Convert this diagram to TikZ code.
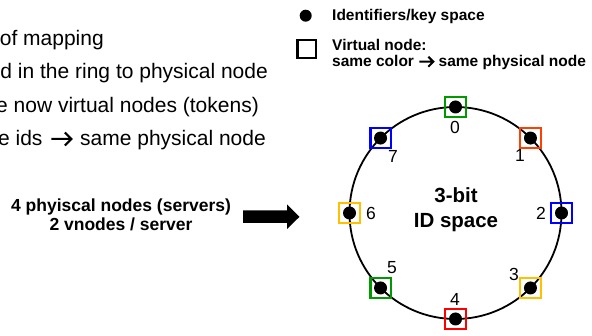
\documentclass[tikz,border=0pt]{standalone}
\usepackage{fontspec}
\setmainfont{Liberation Sans}
\definecolor{vgreen}{RGB}{0,153,0}
\definecolor{vblue}{RGB}{0,0,255}
\definecolor{vyellow}{RGB}{255,192,0}
\definecolor{vorange}{RGB}{255,64,0}
\definecolor{vred}{RGB}{255,0,0}
% inline chevron arrow: #1 length, #2 head half-size, #3 stroke, #4 raise
\newcommand{\chevarrow}[4]{\tikz[baseline=-#4]{\draw[line width=#3, line cap=butt, line join=miter, miter limit=10] (0pt,0pt) -- (#1,0pt) (#1-#2,#2) -- (#1,0pt) -- (#1-#2,-#2);}}
\begin{document}
\begin{tikzpicture}[x=1pt,y=-1pt]
\useasboundingbox (0,0) rectangle (592,336);
\clip (0,0) rectangle (592,336);
\tikzset{
  bodytext/.style={font=\fontsize{21}{25}\selectfont, inner sep=0, anchor=base east},
  legendtext/.style={font=\bfseries\fontsize{15.5}{17}\selectfont, inner sep=0, anchor=base west},
  infotext/.style={font=\bfseries\fontsize{17.5}{20}\selectfont, inner sep=0, anchor=base},
  centertext/.style={font=\bfseries\fontsize{20.5}{24}\selectfont, inner sep=0, anchor=base},
  iddot/.style={circle, fill=black, inner sep=0, minimum size=13pt},
  vnode/.style={draw=#1, line width=2.4pt, minimum size=20.5pt, inner sep=0},
  idlabel/.style={font=\fontsize{17.5}{20}\selectfont, inner sep=0, anchor=center},
}
% left text (clipped at the left edge)
\node[bodytext] (t1) at (104,46) {of mapping};
\node[bodytext] (t2) at (268,79) {d in the ring to physical node};
\node[bodytext] (t3) at (259,112.5) {e now virtual nodes (tokens)};
\node[bodytext] (t4) at (266,146) {e ids\hspace{2pt} \chevarrow{20pt}{6.5pt}{2pt}{7pt}\hspace{2pt} same physical node};
% legend
\node[iddot, minimum size=12pt] (ldot) at (305.7,15.7) {};
\node[legendtext] (l1) at (332,21) {Identifiers/key space};
\node[draw, line width=2.2pt, minimum size=18.5pt, inner sep=0] (lsq) at (306.7,49) {};
\node[legendtext] (l2) at (332,51) {Virtual node:};
\node[legendtext] (l3) at (332,67) {same color \chevarrow{14pt}{5pt}{2pt}{5.3pt} same physical node};
% info text and arrow
\node[infotext] (i1) at (121,212) {4 phyiscal nodes (servers)};
\node[infotext] (i2) at (121,231) {2 vnodes / server};
\fill (243,210.5) -- (287,210.5) -- (287,204.5) -- (299.5,216.8) -- (287,229) -- (287,223) -- (243,223) -- cycle;
% ring
\node[circle, draw, line width=1.8pt, minimum size=212pt, inner sep=0, outer sep=0] (ring) at (455.5,213) {};
\node[centertext] (c1) at (456,203) {3-bit};
\node[centertext] (c2) at (456,228) {ID space};
% virtual nodes
\node[vnode=vgreen]  (s0) at (ring.90)   {};
\node[vnode=vorange] (s1) at (ring.45)   {};
\node[vnode=vblue]   (s2) at (ring.0)    {};
\node[vnode=vyellow] (s3) at (ring.-45)  {};
\node[vnode=vred]    (s4) at (ring.-90)  {};
\node[vnode=vgreen]  (s5) at (ring.-135) {};
\node[vnode=vyellow] (s6) at (ring.180)  {};
\node[vnode=vblue]   (s7) at (ring.135)  {};
% identifier dots
\foreach \a/\n in {90/0,45/1,0/2,-45/3,-90/4,-135/5,180/6,135/7}
  \node[iddot] (d\n) at (ring.\a) {};
% labels
\node[idlabel] (n0) at (455,127) {0};
\node[idlabel] (n1) at (520,155) {1};
\node[idlabel] (n2) at (541,213) {2};
\node[idlabel] (n3) at (514,274) {3};
\node[idlabel] (n4) at (455,299) {4};
\node[idlabel] (n5) at (392,268) {5};
\node[idlabel] (n6) at (371,213) {6};
\node[idlabel] (n7) at (393,156) {7};
\end{tikzpicture}
\end{document}
